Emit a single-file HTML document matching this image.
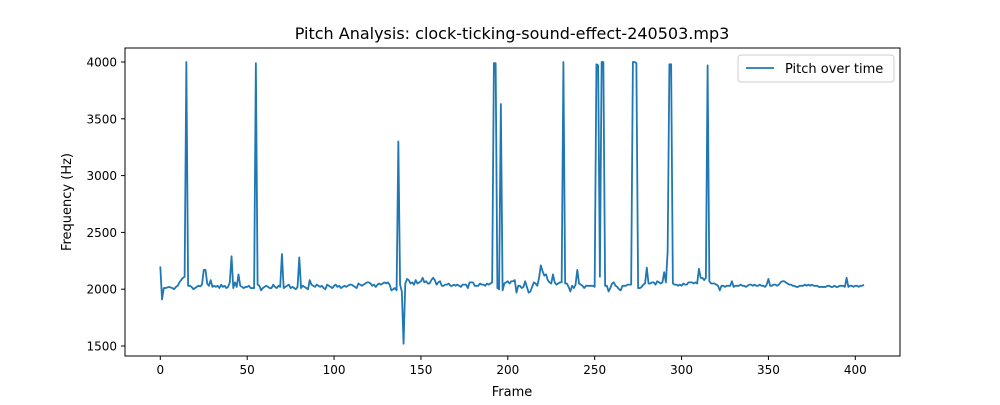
<!DOCTYPE html>
<html><head><meta charset="utf-8"><style>
body{margin:0;background:#fff;font-family:"Liberation Sans","DejaVu Sans",sans-serif}
svg text{font-family:"DejaVu Sans","Liberation Sans",sans-serif}
</style></head><body>
<svg id="c" width="1000" height="400">
<rect width="1000" height="400" fill="#fff"/>
<text x="512" y="39" text-anchor="middle" font-size="16">Pitch Analysis: clock-ticking-sound-effect-240503.mp3</text>
<g id="ticks"></g>
<polyline id="line" fill="none" stroke="#1f77b4" stroke-width="1.8" stroke-linejoin="round"/>
<rect x="125" y="48" width="775" height="308" fill="none" stroke="#000" stroke-width="1"/>
<text x="512" y="396" text-anchor="middle" font-size="13">Frame</text>
<text x="71" y="202" text-anchor="middle" font-size="13" transform="rotate(-90 71 202)">Frequency (Hz)</text>
<g>
<rect x="738" y="55" width="156" height="27" fill="#fff" stroke="#ccc" rx="3"/>
<line x1="746" y1="68" x2="774" y2="68" stroke="#1f77b4" stroke-width="1.8"/>
<text x="785" y="73" font-size="13">Pitch over time</text>
</g>
</svg>
<script>
const xTicks=[0,50,100,150,200,250,300,350,400];
const yTicks=[1500,2000,2500,3000,3500,4000];
const pitch=[2200,1910,2010,2010,2015,2020,2015,2010,2000,2020,
2030,2060,2080,2100,2110,4000,2030,2030,2020,2000,
2010,2020,2030,2025,2040,2170,2170,2050,2030,2080,
2020,2030,2020,2030,2010,2040,2020,2030,2010,2020,
2060,2290,2010,2060,2020,2130,2030,2020,2010,2020,
2020,2030,2010,2010,2010,3990,2040,2030,1990,2010,
2020,2030,2020,2010,2010,2040,2020,2010,2030,2020,
2310,2010,2020,2030,2040,2010,2020,2010,2000,2020,
2280,2010,2030,2020,2010,2000,2080,2040,2030,2020,
2040,2030,2020,2030,2010,2000,2040,2030,2020,2010,
2030,2040,2020,2030,2010,2020,2030,2020,2030,2040,
2040,2030,2020,2010,2050,2040,2030,2040,2050,2060,
2060,2050,2030,2040,2020,2040,2050,2040,2050,2060,
2050,2060,2040,1990,2000,2010,1990,3300,2040,1980,
1520,2050,2090,2080,2050,2060,2040,2080,2050,2060,
2070,2100,2060,2070,2050,2050,2080,2100,2080,2040,
2060,2070,2030,2030,2040,2040,2050,2030,2030,2040,
2030,2040,2030,2020,2040,2040,2040,2010,2060,2060,
2060,2030,2030,2030,2050,2040,2040,2030,2050,2040,
2050,2060,3990,3990,2010,2000,3630,1990,2050,2060,
2070,2050,2070,2070,2080,1970,2030,2030,2010,2020,
2070,2020,1970,1980,2020,2060,2050,2030,2100,2210,
2160,2120,2130,2080,2060,2050,2130,2060,2040,2050,
2060,2060,4000,2050,2050,2020,1980,2030,2010,2040,
2170,2050,2040,2030,2010,2030,2030,2030,2030,2030,
2020,3980,3970,2110,4000,4000,2030,2030,1980,2010,
2050,2060,2030,2020,2000,1990,2030,2030,2030,2040,
2040,2040,4000,4000,3990,2010,2010,2020,2040,2050,
2190,2050,2050,2060,2060,2040,2070,2060,2050,2060,
2150,2060,2330,3980,3980,2050,2040,2040,2030,2040,
2030,2050,2040,2040,2060,2060,2060,2050,2060,2050,
2180,2100,2100,2080,2100,3970,2070,2050,2050,2050,
2040,2030,1990,2030,2030,2020,2030,2030,2030,2070,
2020,2030,2030,2030,2040,2030,2030,2020,2030,2040,
2040,2030,2040,2030,2030,2040,2030,2030,2020,2040,
2090,2030,2030,2040,2040,2030,2040,2060,2070,2070,
2060,2050,2040,2040,2030,2030,2020,2020,2030,2030,
2030,2040,2030,2040,2030,2040,2030,2030,2030,2020,
2020,2020,2020,2020,2030,2030,2020,2020,2030,2020,
2020,2030,2030,2030,2020,2100,2020,2030,2030,2020,
2030,2030,2020,2030,2030,2040];
const xs=v=>160.3+v*1.7375;
const ys=v=>346-(v-1500)*(346-62)/2500;
const NS="http://www.w3.org/2000/svg";
const g=document.getElementById('ticks');
function mk(t,a){const e=document.createElementNS(NS,t);for(const k in a)e.setAttribute(k,a[k]);g.appendChild(e);return e;}
xTicks.forEach(t=>{
  const l=mk('line',{x1:xs(t),x2:xs(t),y1:356,y2:360,stroke:'#000'});
  
  
  const tx=mk('text',{x:xs(t),y:374,'text-anchor':'middle','font-size':'12'});
  tx.textContent=t;
  
  
});
yTicks.forEach(t=>{
  const l=mk('line',{x1:121,x2:125,y1:ys(t),y2:ys(t),stroke:'#000'});
  
  
  const tx=mk('text',{x:117,y:ys(t)+4.5,'text-anchor':'end','font-size':'12'});
  tx.textContent=t;
  
  
});
document.getElementById('line').setAttribute('points',pitch.map((v,i)=>xs(i).toFixed(2)+','+ys(v).toFixed(2)).join(' '));
</script>
</body></html>
